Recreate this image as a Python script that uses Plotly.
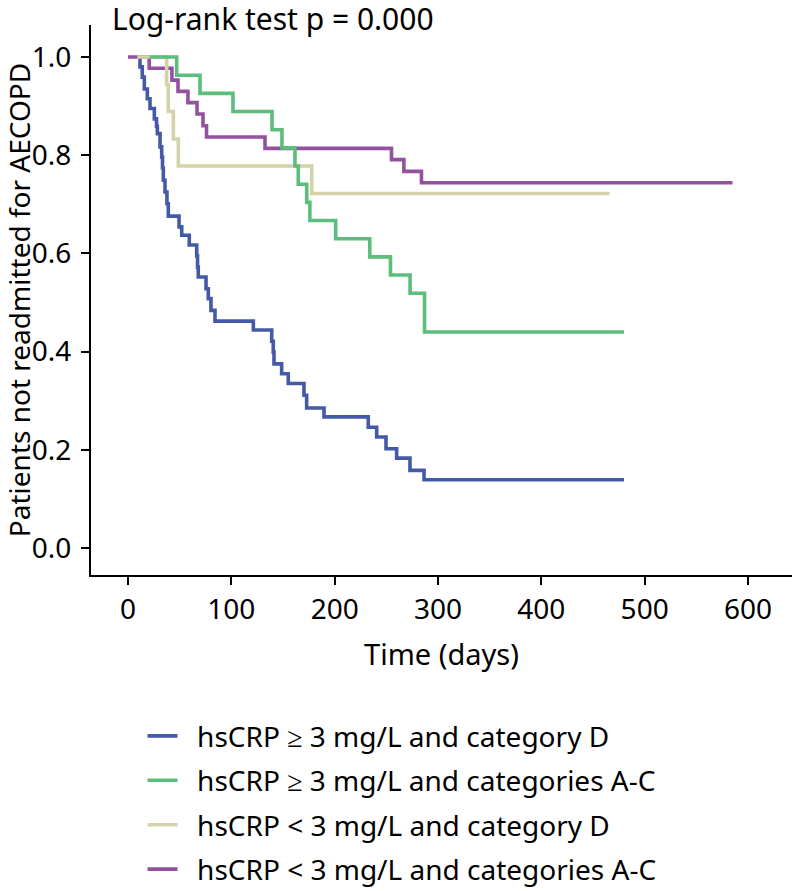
import plotly.graph_objects as go

# ---- data (time in days, survival proportion) ----
blue_t = [11, 11.6, 13.8, 15.8, 18.7, 21.3, 25.5, 27.6, 28.4, 31.0, 32.6, 33.4, 34.2, 35.8, 37.7, 39.0,
          49.4, 52.0, 59.3, 66.5, 67.3, 68.0, 75.5, 77.7, 80.3, 84.2, 121.3, 139.1, 140.6, 141.3,
          148.7, 155.1, 170.3, 172.9, 189.7, 232.5, 240.7, 249.7, 260.0, 272.9, 286.5, 480]
blue_s = [1.0, 0.980, 0.959, 0.935, 0.915, 0.895, 0.874, 0.859, 0.844, 0.817, 0.796, 0.774, 0.749, 0.725, 0.701, 0.676,
          0.654, 0.637, 0.617, 0.595, 0.572, 0.552, 0.528, 0.508, 0.484, 0.462, 0.444, 0.421, 0.399, 0.375,
          0.355, 0.335, 0.311, 0.285, 0.267, 0.246, 0.226, 0.202, 0.183, 0.158, 0.139, 0.139]

green_t = [21, 47.1, 69.7, 101.6, 139.4, 149, 161.6, 164.8, 173, 176, 201, 234, 254, 273, 287, 480]
green_s = [1.0, 0.963, 0.926, 0.889, 0.852, 0.815, 0.778, 0.741, 0.704, 0.667, 0.630, 0.593, 0.556, 0.519, 0.440, 0.440]

tan_t = [9, 37.4, 39, 43.9, 48.7, 177.8, 466]
tan_s = [1.0, 0.944, 0.889, 0.833, 0.778, 0.722, 0.722]

purple_t = [0, 20.5, 42.5, 48.4, 58, 66.8, 72.6, 76, 132.6, 255, 267, 284, 585]
purple_s = [1.0, 0.977, 0.953, 0.930, 0.907, 0.884, 0.860, 0.837, 0.814, 0.791, 0.767, 0.744, 0.744]

names = {
    "blue": "hsCRP ≥ 3 mg/L and category D",
    "green": "hsCRP ≥ 3 mg/L and categories A-C",
    "tan": "hsCRP < 3 mg/L and category D",
    "purple": "hsCRP < 3 mg/L and categories A-C",
}
colors = {"blue": "#4459a8", "green": "#5cbd7c", "tan": "#d4d2a8", "purple": "#93519f"}
legend_rank = {"blue": 1, "green": 2, "tan": 3, "purple": 4}

x_ticks = [0, 100, 200, 300, 400, 500, 600]
y_ticks = [0.0, 0.2, 0.4, 0.6, 0.8, 1.0]
y_tick_text = ["0.0", "0.2", "0.4", "0.6", "0.8", "1.0"]

# drawing order (bottom -> top)
series = [("blue", blue_t, blue_s), ("purple", purple_t, purple_s),
          ("tan", tan_t, tan_s), ("green", green_t, green_s)]

FONT = "Noto Sans"

fig = go.Figure()
for key, t, s in series:
    fig.add_trace(go.Scatter(
        x=t, y=s, mode="lines", line=dict(color=colors[key], width=3.6, shape="hv"),
        name="\u00a0\u00a0" + names[key], legendgroup=key, legendrank=legend_rank[key],
    ))

fig.update_layout(
    width=792, height=891,
    margin=dict(l=91, r=0, t=25, b=316, autoexpand=False),
    paper_bgcolor="white", plot_bgcolor="white",
    font=dict(family=FONT, size=29, color="black"),
    title=dict(text="Log-rank test p = 0.000", x=112 / 792, xref="container", xanchor="left",
               y=1 - 9 / 891, yref="container", yanchor="top", pad=dict(t=0, b=0, l=0, r=0),
               font=dict(family=FONT, size=30, color="black")),
    showlegend=True,
    legend=dict(x=0.0735, xanchor="left", y=-0.2476, yanchor="top",
                traceorder="grouped", tracegroupgap=5, font=dict(family=FONT, size=28),
                bgcolor="rgba(0,0,0,0)", borderwidth=0),
)
fig.update_xaxes(
    range=[-35.8, 642.6], tickvals=x_ticks, ticktext=[str(v) for v in x_ticks],
    showline=True, linecolor="black", linewidth=2, ticks="outside", ticklen=8, tickwidth=2,
    tickcolor="black", showgrid=False, zeroline=False, tickfont=dict(size=28),
    automargin=False,
    title=dict(text="Time (days)", standoff=19, font=dict(size=29)),
)
fig.update_yaxes(
    range=[-0.055, 1.0652], tickvals=y_ticks, ticktext=y_tick_text,
    showline=True, linecolor="black", linewidth=2, ticks="outside", ticklen=8, tickwidth=2,
    tickcolor="black", showgrid=False, zeroline=False, tickfont=dict(size=28),
    ticklabelstandoff=4, automargin=False,
    title=dict(text="Patients not readmitted for AECOPD", standoff=4, font=dict(size=28)),
)

fig.write_html(
    "out.html",
    config={"displayModeBar": False},
    post_script="document.body.style.margin='0';document.body.style.overflow='hidden';",
)
